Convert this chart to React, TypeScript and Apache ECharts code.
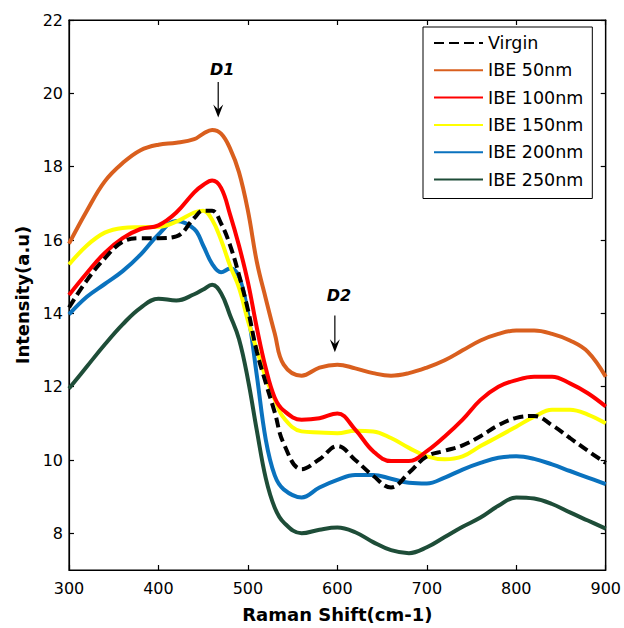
import React, { useEffect, useRef } from "react";
import * as echarts from "echarts";

const xs = [300, 320, 340, 360, 380, 400, 420, 440, 450, 460, 470, 480, 490, 500, 510, 520, 530, 540, 560, 580, 600, 620, 640, 660, 680, 700, 720, 740, 760, 780, 800, 820, 840, 860, 880, 900];

const virgin = [14.16, 14.9, 15.5, 15.95, 16.05, 16.05, 16.1, 16.6, 16.8, 16.8, 16.45, 15.86, 15.05, 14.1, 12.95, 12.1, 11.3, 10.45, 9.75, 10.02, 10.38, 10.0, 9.57, 9.25, 9.65, 10.1, 10.25, 10.4, 10.65, 10.95, 11.15, 11.2, 10.95, 10.6, 10.25, 9.92];
const ibe50 = [15.9, 16.8, 17.6, 18.1, 18.45, 18.6, 18.65, 18.75, 18.9, 19.0, 18.9, 18.5, 17.85, 16.8, 15.4, 14.4, 13.45, 12.6, 12.3, 12.52, 12.6, 12.5, 12.37, 12.3, 12.37, 12.52, 12.72, 12.99, 13.26, 13.44, 13.53, 13.53, 13.44, 13.26, 12.95, 12.27];
const ibe100 = [14.5, 15.1, 15.65, 16.05, 16.3, 16.4, 16.75, 17.3, 17.5, 17.62, 17.42, 16.7, 15.85, 14.85, 13.6, 12.5, 11.7, 11.35, 11.1, 11.14, 11.27, 10.83, 10.24, 9.97, 9.97, 10.24, 10.64, 11.1, 11.64, 12.0, 12.18, 12.27, 12.27, 12.09, 11.82, 11.46];
const ibe150 = [15.33, 15.85, 16.2, 16.33, 16.35, 16.36, 16.5, 16.75, 16.8, 16.55, 16.0, 15.3, 14.7, 13.8, 13.0, 12.25, 11.65, 11.15, 10.78, 10.75, 10.73, 10.8, 10.78, 10.6, 10.33, 10.1, 10.02, 10.1, 10.38, 10.64, 10.91, 11.18, 11.37, 11.37, 11.24, 11.0];
const ibe200 = [13.97, 14.45, 14.8, 15.15, 15.6, 16.15, 16.52, 16.3, 15.85, 15.35, 15.12, 15.22, 15.0, 14.0, 12.3, 10.55, 9.58, 9.2, 8.98, 9.25, 9.46, 9.59, 9.59, 9.49, 9.38, 9.36, 9.52, 9.74, 9.92, 10.06, 10.1, 10.03, 9.88, 9.7, 9.52, 9.34];
const ibe250 = [11.95, 12.55, 13.15, 13.7, 14.15, 14.4, 14.35, 14.52, 14.65, 14.78, 14.55, 13.95, 13.3, 12.2, 10.8, 9.5, 8.7, 8.3, 8.0, 8.1, 8.16, 8.03, 7.76, 7.54, 7.46, 7.62, 7.9, 8.18, 8.43, 8.75, 8.98, 8.95, 8.8, 8.57, 8.35, 8.13];

const seriesNames = ["Virgin", "IBE 50nm", "IBE 100nm", "IBE 150nm", "IBE 200nm", "IBE 250nm"];
const seriesValues = [virgin, ibe50, ibe100, ibe150, ibe200, ibe250];
const seriesColors = ["#000000", "#D95F1E", "#FF0000", "#FFFF00", "#0A72BE", "#1E4D38"];

const yTicks = [8, 10, 12, 14, 16, 18, 20, 22];

const annotations = [
  { label: "D1", x: 466.8, tail: 20.31, tip: 19.34, textY: 20.64 },
  { label: "D2", x: 597.2, tail: 13.94, tip: 12.94, textY: 14.48 },
];

const FONT = "DejaVu Sans, Arial, sans-serif";

export default function App() {
  const ref = useRef<HTMLDivElement>(null);
  useEffect(() => {
    if (!ref.current) return;
    const chart = echarts.init(ref.current, null, { renderer: "svg" });
    const axisCommon = {
      axisLine: { show: true, lineStyle: { color: "#000", width: 1.2 } },
      axisTick: { show: true, inside: true, length: 5, lineStyle: { color: "#000", width: 1.2 } },
      splitLine: { show: false },
    };
    chart.setOption({
      animation: false,
      backgroundColor: "#fff",
      grid: { left: 69, right: 18, top: 20, bottom: 53, show: true, borderColor: "#000", borderWidth: 1.2, containLabel: false },
      legend: {
        orient: "vertical",
        left: 423,
        top: 27,
        padding: [7, 9, 10, 10],
        itemWidth: 49,
        itemHeight: 14,
        itemGap: 9.3,
        borderColor: "#000",
        borderWidth: 1,
        backgroundColor: "#fff",
        itemStyle: { opacity: 0 },
        textStyle: { fontFamily: FONT, fontSize: 17.5, color: "#000", lineHeight: 17 },
        data: seriesNames,
      },
      xAxis: [
        {
          type: "value",
          min: 300,
          max: 900,
          interval: 100,
          position: "bottom",
          ...axisCommon,
          axisLabel: { fontFamily: FONT, fontSize: 16, color: "#000", margin: 10 },
          name: "Raman Shift(cm-1)",
          nameLocation: "middle",
          nameGap: 35,
          nameTextStyle: { fontFamily: FONT, fontSize: 18, fontWeight: "bold", color: "#000" },
        },
        {
          type: "value",
          min: 300,
          max: 900,
          interval: 100,
          position: "top",
          ...axisCommon,
          axisLabel: { show: false },
        },
      ],
      yAxis: [
        {
          type: "value",
          min: 7,
          max: 22,
          position: "left",
          ...axisCommon,
          axisTick: { ...axisCommon.axisTick, customValues: yTicks },
          axisLabel: { fontFamily: FONT, fontSize: 16, color: "#000", margin: 6, customValues: yTicks },
          name: "Intensity(a.u)",
          nameLocation: "middle",
          nameGap: 36,
          nameTextStyle: { fontFamily: FONT, fontSize: 18, fontWeight: "bold", color: "#000" },
        },
        {
          type: "value",
          min: 7,
          max: 22,
          position: "right",
          ...axisCommon,
          axisTick: { ...axisCommon.axisTick, customValues: yTicks },
          axisLabel: { show: false, customValues: yTicks },
        },
      ],
      series: seriesNames.map((name, i) => ({
        name,
        type: "line",
        xAxisIndex: 0,
        yAxisIndex: 0,
        data: xs.map((x, j) => [x, seriesValues[i][j]]),
        smooth: 0.4,
        showSymbol: false,
        symbol: "none",
        color: seriesColors[i],
        lineStyle: { color: seriesColors[i], width: 4, type: i === 0 ? [10, 5] : "solid" },
        z: 10 - i,
      })),
    });

    const graphics: any[] = [];
    annotations.forEach((a) => {
      const tail = chart.convertToPixel({ gridIndex: 0 }, [a.x, a.tail]) as number[];
      const tip = chart.convertToPixel({ gridIndex: 0 }, [a.x, a.tip]) as number[];
      const txt = chart.convertToPixel({ gridIndex: 0 }, [a.x, a.textY]) as number[];
      graphics.push({
        type: "line",
        shape: { x1: tail[0], y1: tail[1], x2: tip[0], y2: tip[1] - 4 },
        style: { stroke: "#000", lineWidth: 1.2 },
        z: 100,
      });
      graphics.push({
        type: "polygon",
        shape: { points: [[tip[0], tip[1]], [tip[0] - 5, tip[1] - 13], [tip[0], tip[1] - 8], [tip[0] + 5, tip[1] - 13]] },
        style: { fill: "#000" },
        z: 100,
      });
      graphics.push({
        type: "text",
        x: txt[0] + 4,
        y: txt[1],
        style: {
          text: a.label,
          fontFamily: FONT,
          fontSize: 16,
          fontWeight: "bold",
          fontStyle: "italic",
          fill: "#000",
          align: "center",
          verticalAlign: "middle",
        },
        z: 100,
      });
    });
    chart.setOption({ graphic: graphics });

    return () => chart.dispose();
  }, []);
  return <div ref={ref} style={{ width: 624, height: 628, position: "absolute", left: 0, top: 0 }} />;
}
